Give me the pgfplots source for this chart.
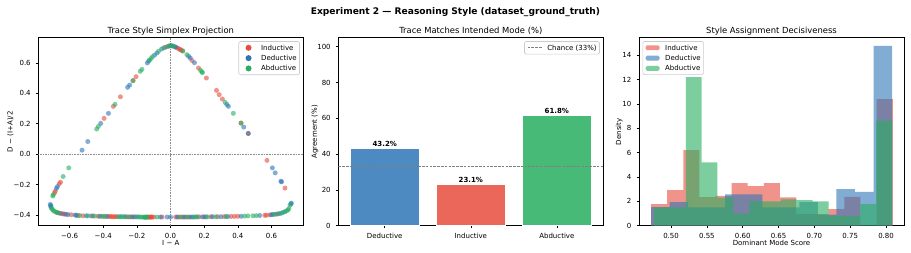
\documentclass[border=0pt]{standalone}
\usepackage{pgfplots}
\pgfplotsset{compat=1.18}
\usepackage{fontspec}
\setmainfont{DejaVu Sans}

\definecolor{indred}{HTML}{E74C3C}
\definecolor{dedblue}{HTML}{2E75B6}
\definecolor{abdgreen}{HTML}{27AE60}
\definecolor{barblue}{HTML}{4D8AC1}
\definecolor{barred}{HTML}{EB6759}
\definecolor{bargreen}{HTML}{47BA78}

\newcommand{\smallfont}{\fontsize{7}{8.4}\selectfont}

\pgfplotsset{
  panel/.style={
    scale only axis, width=265pt, height=188pt,
    axis line style={line width=0.6pt, black},
    tick align=outside, major tick length=2.5pt,
    tick style={line width=0.6pt, black},
    tick pos=left,
    ticklabel style={font=\smallfont},
    xticklabel style={anchor=base, inner sep=0pt, yshift=-10pt},
    yticklabel style={anchor=east, inner sep=0pt, xshift=-4.9pt},
    every axis title/.style={at={(0.5,1)}, anchor=base, yshift=4.4pt, font=\fontsize{8.4}{10}\selectfont},
    every axis x label/.style={at={(axis description cs:0.5,0)}, anchor=base, yshift=-20pt, font=\smallfont},
    legend style={font=\smallfont, draw=black!20, line width=0.6pt, rounded corners=1.5pt,
      fill=white, inner xsep=2.8pt, inner ysep=2.8pt, row sep=3.3pt,
      nodes={inner sep=0pt, text height=6.05pt, text depth=0.95pt}},
    legend cell align=left,
  },
  ylab/.style={every axis y label/.style={at={(axis description cs:0,0.5)}, xshift=-#1, rotate=90, anchor=base, font=\smallfont}},
}
% spacer that reserves the handle length plus the gap before the text
\newcommand{\handlespace}{\path[draw=none, fill=none] (0pt,0pt) -- (19.6pt,0pt);}

\begin{document}
\begin{tikzpicture}
\fill[white] (0,0) rectangle (911pt,252pt);
\path[use as bounding box] (0,0) rectangle (911pt,252pt);

\node[anchor=base, font=\bfseries\fontsize{9.1}{11}\selectfont] at (455.5pt,237.7pt)
  {Experiment 2 — Reasoning Style (dataset\_ground\_truth)};

% ---------------- simplex projection scatter ----------------
\begin{axis}[panel, ylab=25.7pt,
  at={(38.3pt,26.3pt)}, anchor=south west,
  title={Trace Style Simplex Projection},
  xlabel={I − A}, ylabel={D − (I+A)/2},
  xmin=-0.786, xmax=0.789, ymin=-0.47, ymax=0.765,
  xtick={-0.6,-0.4,-0.2,0,0.2,0.4,0.6},
  xticklabels={−0.6,−0.4,−0.2,0.0,0.2,0.4,0.6},
  ytick={-0.4,-0.2,0,0.2,0.4,0.6},
  yticklabels={−0.4,−0.2,0.0,0.2,0.4,0.6},
  legend style={at={(1,1)}, xshift=-3.5pt, yshift=-3.5pt, anchor=north east},
]
% Inductive
\addplot[forget plot, only marks, mark=*, mark size=2.5pt, color=indred,
  mark options={fill=indred, fill opacity=0.6, draw opacity=0}] coordinates {
(-0.395,0.235) (-0.340,0.314) (-0.298,0.377) (-0.223,0.483) (-0.205,0.509) (-0.033,0.702) (-0.005,0.712) (0.010,0.711) (0.040,0.698) (0.048,0.693) (0.056,0.688) (0.062,0.684) (0.072,0.678) (0.127,0.616) (0.166,0.566) (0.213,0.500) (0.273,0.419) (0.289,0.391) (0.308,0.362) (0.419,0.204) (0.462,0.136)
(0.573,-0.041) (0.680,-0.223) (-0.654,-0.184) (-0.662,-0.195) (-0.685,-0.243) (-0.690,-0.255)
(-0.675,-0.383) (-0.650,-0.390) (-0.640,-0.392) (-0.620,-0.395) (-0.590,-0.398)
(-0.550,-0.403) (-0.520,-0.405) (-0.460,-0.406) (-0.430,-0.408) (-0.400,-0.409) (-0.370,-0.409) (-0.360,-0.410) (-0.350,-0.410) (-0.340,-0.411) (-0.330,-0.411) (-0.320,-0.411) (-0.260,-0.412) (-0.240,-0.412) (-0.220,-0.412) (-0.140,-0.413) (-0.130,-0.413) (-0.125,-0.414) (-0.120,-0.413) (-0.115,-0.414) (-0.110,-0.413) (-0.100,-0.413) (-0.050,-0.413) (0.030,-0.413) (0.050,-0.413) (0.070,-0.413) (0.090,-0.413) (0.120,-0.413) (0.170,-0.412) (0.200,-0.412) (0.240,-0.411) (0.280,-0.411) (0.320,-0.410) (0.360,-0.409) (0.380,-0.409) (0.400,-0.408) (0.560,-0.402) (0.570,-0.401) (0.590,-0.399) (0.630,-0.394)
};
% Deductive
\addplot[forget plot, only marks, mark=*, mark size=2.5pt, color=dedblue,
  mark options={fill=dedblue, fill opacity=0.6, draw opacity=0}] coordinates {
(-0.526,0.026) (-0.492,0.083) (-0.415,0.202) (-0.369,0.268) (-0.255,0.439) (-0.243,0.454) (-0.138,0.599) (-0.130,0.612) (-0.095,0.651) (-0.080,0.665) (-0.053,0.691) (-0.020,0.706) (0.005,0.712) (0.025,0.706) (0.030,0.703) (0.107,0.643) (0.117,0.632) (0.142,0.601) (0.334,0.327) (0.344,0.314) (0.435,0.178) (0.462,0.136)
(0.605,-0.090) (0.622,-0.123) (0.656,-0.178) (0.660,-0.182) (0.715,-0.327) (0.718,-0.322) (-0.672,-0.213) (-0.678,-0.225) (-0.711,-0.338) (-0.715,-0.330)
(-0.712,-0.345) (-0.660,-0.388) (-0.630,-0.394) (-0.610,-0.397) (-0.567,-0.400)
(-0.560,-0.402) (-0.500,-0.405) (-0.470,-0.406) (-0.420,-0.408) (-0.380,-0.409) (-0.300,-0.411) (-0.270,-0.411) (-0.230,-0.412) (-0.210,-0.412) (-0.190,-0.412) (-0.060,-0.413) (-0.020,-0.413) (0.000,-0.413) (0.040,-0.413) (0.080,-0.413) (0.110,-0.413) (0.130,-0.413) (0.150,-0.412) (0.190,-0.412) (0.210,-0.412) (0.250,-0.411) (0.300,-0.411) (0.340,-0.410) (0.420,-0.408) (0.530,-0.403) (0.600,-0.398) (0.610,-0.396) (0.640,-0.392) (0.660,-0.387) (0.680,-0.378)
};
% Abductive
\addplot[forget plot, only marks, mark=*, mark size=2.5pt, color=abdgreen,
  mark options={fill=abdgreen, fill opacity=0.6, draw opacity=0}] coordinates {
(-0.439,0.165) (-0.429,0.182) (-0.330,0.327) (-0.223,0.483) (-0.180,0.544) (-0.170,0.557) (-0.125,0.618) (-0.116,0.628) (-0.108,0.640) (-0.071,0.676) (-0.040,0.698) (-0.010,0.710) (0.000,0.713) (0.015,0.710) (0.072,0.678) (0.097,0.654) (0.178,0.551) (0.186,0.540) (0.190,0.536) (0.324,0.340) (0.373,0.268) (0.419,0.204)
(0.710,-0.335) (0.698,-0.366) (0.703,-0.358) (-0.605,-0.090) (-0.638,-0.147) (-0.697,-0.267) (-0.700,-0.275)
(-0.708,-0.355) (-0.703,-0.362) (-0.697,-0.370) (-0.690,-0.376) (-0.680,-0.381) (-0.670,-0.385)
(-0.540,-0.403) (-0.490,-0.405) (-0.450,-0.407) (-0.410,-0.408) (-0.390,-0.409) (-0.310,-0.411) (-0.290,-0.411) (-0.280,-0.411) (-0.250,-0.412) (-0.200,-0.412) (-0.180,-0.413) (-0.170,-0.413) (-0.160,-0.414) (-0.155,-0.414) (-0.150,-0.414) (-0.145,-0.414) (-0.140,-0.414) (-0.080,-0.413) (0.060,-0.413) (0.100,-0.413) (0.140,-0.413) (0.160,-0.412) (0.220,-0.412) (0.270,-0.411) (0.330,-0.410) (0.440,-0.407) (0.460,-0.406) (0.490,-0.405) (0.510,-0.404) (0.620,-0.395) (0.650,-0.390) (0.670,-0.382) (0.690,-0.372)
};
% reference lines through the origin
\addplot[forget plot, black!45, line width=0.6pt, dash pattern=on 0.6pt off 1pt] coordinates {(-0.786,0) (0.789,0)};
\addplot[forget plot, black!45, line width=0.6pt, dash pattern=on 0.6pt off 1pt] coordinates {(0,-0.47) (0,0.765)};
\addlegendimage{legend image code/.code={\fill[indred, draw=none] (7pt,0pt) circle (3pt); \handlespace}}
\addlegendentry{Inductive}
\addlegendimage{legend image code/.code={\fill[dedblue, draw=none] (7pt,0pt) circle (3pt); \handlespace}}
\addlegendentry{Deductive}
\addlegendimage{legend image code/.code={\fill[abdgreen, draw=none] (7pt,0pt) circle (3pt); \handlespace}}
\addlegendentry{Abductive}
\end{axis}

% ---------------- agreement bars ----------------
\begin{axis}[panel, ylab=21.4pt,
  at={(338.3pt,26.3pt)}, anchor=south west,
  title={Trace Matches Intended Mode (\%)},
  ylabel={Agreement (\%)},
  xmin=-0.54, xmax=2.54, ymin=0, ymax=105,
  xtick={0,1,2}, xticklabels={Deductive,Inductive,Abductive},
  ytick={0,20,40,60,80,100}, yticklabels={0,20,40,60,80,100},
  legend style={at={(1,1)}, xshift=-3.5pt, yshift=-3.5pt, anchor=north east},
  legend image code/.code={\draw[#1] (0pt,0pt) -- (14pt,0pt); \handlespace},
  every node near coord/.append style={font=\bfseries\smallfont, inner sep=0pt, yshift=1.5pt},
]
\addplot[forget plot, ybar, bar width=0.8, bar shift=0pt, fill=barblue, draw=white, line width=0.7pt,
  nodes near coords, point meta=explicit symbolic] coordinates {(0,43.2) [43.2\%]};
\addplot[forget plot, ybar, bar width=0.8, bar shift=0pt, fill=barred, draw=white, line width=0.7pt,
  nodes near coords, point meta=explicit symbolic] coordinates {(1,23.1) [23.1\%]};
\addplot[forget plot, ybar, bar width=0.8, bar shift=0pt, fill=bargreen, draw=white, line width=0.7pt,
  nodes near coords, point meta=explicit symbolic] coordinates {(2,61.8) [61.8\%]};
\addplot[black!50, line width=0.8pt, dash pattern=on 2.6pt off 1.2pt] coordinates {(-0.54,33.33) (2.54,33.33)};
\addlegendentry{Chance (33\%)}
\end{axis}

% ---------------- decisiveness histograms ----------------
\begin{axis}[panel, ylab=18pt,
  at={(639pt,26.3pt)}, anchor=south west,
  title={Style Assignment Decisiveness},
  xlabel={Dominant Mode Score}, ylabel={Density},
  xmin=0.4553, xmax=0.825, ymin=0, ymax=15.45,
  xtick={0.50,0.55,0.60,0.65,0.70,0.75,0.80},
  xticklabels={0.50,0.55,0.60,0.65,0.70,0.75,0.80},
  ytick={0,2,4,6,8,10,12,14}, yticklabels={0,2,4,6,8,10,12,14},
  legend style={at={(0,1)}, xshift=3.5pt, yshift=-3.5pt, anchor=north west},
  legend image code/.code={\fill[#1, draw=none] (0pt,-2.45pt) rectangle (14pt,2.45pt); \handlespace},
]
% Inductive, 15 bins
\addplot[forget plot, const plot, fill=indred, fill opacity=0.6, draw=none] coordinates {
(0.4721,1.78) (0.4946,2.93) (0.5171,6.22) (0.5395,2.35) (0.5620,2.45) (0.5845,3.50) (0.6070,3.26) (0.6295,3.50) (0.6519,2.33) (0.6744,0.95) (0.6969,0.95) (0.7194,1.37) (0.7419,2.36) (0.7643,0) (0.7868,10.40) (0.8093,10.40)
} \closedcycle;
% Deductive, 13 bins
\addplot[forget plot, const plot, fill=dedblue, fill opacity=0.6, draw=none] coordinates {
(0.4721,1.53) (0.4980,1.93) (0.5238,1.50) (0.5497,1.50) (0.5756,2.58) (0.6014,2.58) (0.6273,1.50) (0.6532,1.50) (0.6790,1.94) (0.7049,0.90) (0.7308,3.00) (0.7566,2.77) (0.7825,14.77) (0.8084,14.77)
} \closedcycle;
% Abductive, 15 bins
\addplot[forget plot, const plot, fill=abdgreen, fill opacity=0.6, draw=none] coordinates {
(0.4763,1.50) (0.4984,1.50) (0.5206,12.20) (0.5427,5.20) (0.5648,2.30) (0.5870,1.00) (0.6091,2.00) (0.6312,2.00) (0.6533,2.17) (0.6755,2.10) (0.6976,2.00) (0.7198,0.80) (0.7419,0.80) (0.7640,1.78) (0.7862,8.63) (0.8083,8.63)
} \closedcycle;
\addlegendimage{fill=indred, fill opacity=0.6, draw=none}
\addlegendentry{Inductive}
\addlegendimage{fill=dedblue, fill opacity=0.6, draw=none}
\addlegendentry{Deductive}
\addlegendimage{fill=abdgreen, fill opacity=0.6, draw=none}
\addlegendentry{Abductive}
\end{axis}
\end{tikzpicture}
\end{document}
